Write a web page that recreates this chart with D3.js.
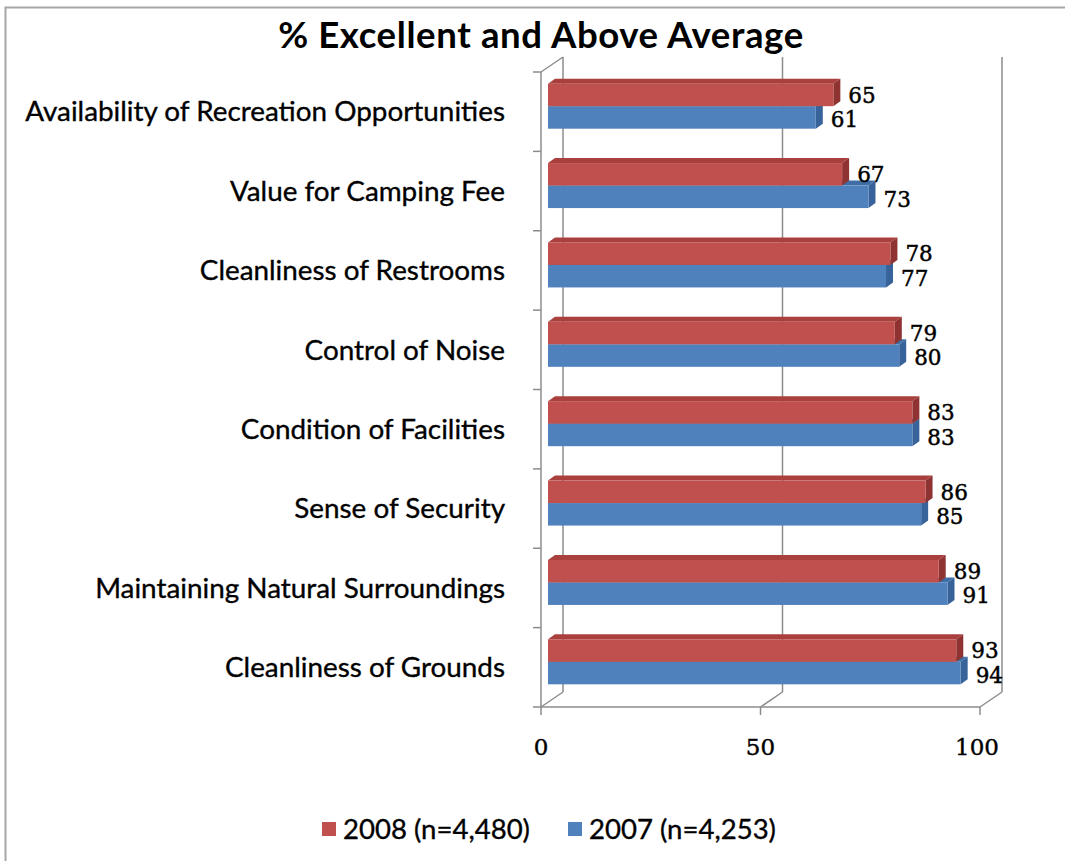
<!DOCTYPE html>
<html>
<head>
<meta charset="utf-8">
<script src="https://cdn.jsdelivr.net/npm/d3@7/dist/d3.min.js"></script>
<style>
  body { margin: 0; background: #fff; }
  text { fill: #000; }
</style>
</head>
<body>
<script>
const categories = [
  "Availability of Recreation Opportunities",
  "Value for Camping Fee",
  "Cleanliness of Restrooms",
  "Control of Noise",
  "Condition of Facilities",
  "Sense of Security",
  "Maintaining Natural Surroundings",
  "Cleanliness of Grounds"
];
const values2008 = [65, 67, 78, 79, 83, 86, 89, 93];
const values2007 = [61, 73, 77, 80, 83, 85, 91, 94];
const xTicks = [0, 50, 100];
const seriesNames = ["2008 (n=4,480)", "2007 (n=4,253)"];
const title = "% Excellent and Above Average";

const width = 1065, height = 861,
      wallDx = 22, wallDy = -15,     // depth of the 3d box
      barShiftX = 7, barShiftY = -5.5, // bars sit inside the depth
      barDx = 7, barDy = -5,         // depth of each bar
      gridColor = "#8c8c8c",
      colors = {
        red: {front: "#c0504d", top: "#a9403d", side: "#8e3331"},
        blue: {front: "#4f81bd", top: "#3f6ea6", side: "#38639a"}
      };

const svg = d3.select("body").append("svg")
  .attr("width", width)
  .attr("height", height);

svg.append("rect")
  .attr("x", 5.5).attr("y", 7.5)
  .attr("width", 1080).attr("height", 880)
  .attr("fill", "#fff")
  .attr("stroke", "#a6a6a6")
  .attr("stroke-width", 2);

const xScale = d3.scaleLinear().domain([0, 100]).range([541, 980]);
const yScale = d3.scaleBand().domain(categories).range([72, 707]);
const y0 = yScale.range()[0], y1 = yScale.range()[1];

// walls and grid
const grid = svg.append("g")
  .attr("stroke", gridColor)
  .attr("stroke-width", 1.5)
  .attr("fill", "none");

xTicks.forEach((t) => {
  const x = xScale(t);
  grid.append("line")
    .attr("x1", x + wallDx).attr("x2", x + wallDx)
    .attr("y1", y0 + wallDy).attr("y2", y1 + wallDy);
  grid.append("line")
    .attr("x1", x).attr("x2", x + wallDx)
    .attr("y1", y1).attr("y2", y1 + wallDy);
});

grid.append("line")
  .attr("x1", xScale(0)).attr("x2", xScale(0) + wallDx)
  .attr("y1", y0).attr("y2", y0 + wallDy);
grid.append("line")
  .attr("x1", xScale(0)).attr("x2", xScale(0))
  .attr("y1", y0).attr("y2", y1);
grid.append("line")
  .attr("x1", xScale(0)).attr("x2", xScale(100))
  .attr("y1", y1).attr("y2", y1);

// category ticks on the left
const bounds = categories.map((c) => yScale(c)).concat([y1]);
grid.selectAll(".ytick")
  .data(bounds).enter()
  .append("line")
  .attr("x1", xScale(0) - 8).attr("x2", xScale(0))
  .attr("y1", (d) => d).attr("y2", (d) => d);

grid.selectAll(".xtick")
  .data(xTicks).enter()
  .append("line")
  .attr("x1", (d) => xScale(d)).attr("x2", (d) => xScale(d))
  .attr("y1", y1).attr("y2", y1 + 8);

// bars
const barH = 22.5;
const rows = categories.map((c, i) => ({
  cat: c,
  center: yScale(c) + yScale.bandwidth() / 2 + barShiftY,
  v2008: values2008[i],
  v2007: values2007[i]
}));

function drawBar(g, x0, x1, y, h, col) {
  g.append("polygon")
    .attr("points", [[x0, y], [x0 + barDx, y + barDy], [x1 + barDx, y + barDy], [x1, y]].join(" "))
    .attr("fill", col.top);
  g.append("polygon")
    .attr("points", [[x1, y], [x1 + barDx, y + barDy], [x1 + barDx, y + h + barDy], [x1, y + h]].join(" "))
    .attr("fill", col.side);
  g.append("rect")
    .attr("x", x0).attr("y", y)
    .attr("width", x1 - x0).attr("height", h)
    .attr("fill", col.front);
}

const bars = svg.append("g");
rows.forEach((r) => {
  const x0 = xScale(0) + barShiftX;
  // blue (2007) below, drawn first so red covers its top face
  drawBar(bars, x0, xScale(r.v2007) + barShiftX, r.center, barH, colors.blue);
  drawBar(bars, x0, xScale(r.v2008) + barShiftX, r.center - barH, barH, colors.red);
});

// value labels
const valueFont = "'DejaVu Serif', serif";
const labels = svg.append("g")
  .attr("font-family", valueFont)
  .attr("font-size", 21.5)
  .attr("stroke", "#000")
  .attr("stroke-width", 0.45);
rows.forEach((r) => {
  labels.append("text")
    .attr("x", xScale(r.v2008) + barShiftX + 15)
    .attr("y", r.center - barH / 2)
    .attr("dy", "0.36em")
    .text(r.v2008);
  labels.append("text")
    .attr("x", xScale(r.v2007) + barShiftX + 15)
    .attr("y", r.center + barH / 2 + 2)
    .attr("dy", "0.36em")
    .text(r.v2007);
});

// x tick labels
svg.append("g")
  .attr("font-family", valueFont)
  .attr("font-size", 23)
  .attr("stroke", "#000")
  .attr("stroke-width", 0.4)
  .attr("text-anchor", "middle")
  .selectAll("text")
  .data(xTicks).enter()
  .append("text")
  .attr("x", (d) => xScale(d) - (d === 100 ? 3 : 0))
  .attr("y", 747)
  .attr("dy", "0.36em")
  .text((d) => d);

const sans = "Lato, 'Open Sans', sans-serif";

// fits a text selection's font-size to a target width
function fitSize(text, target, start) {
  text.attr("font-size", start);
  const w = text.node().getComputedTextLength();
  return start * target / w;
}

// category labels
const catG = svg.append("g")
  .attr("font-family", sans)
  .attr("stroke", "#000")
  .attr("stroke-width", 0.35)
  .attr("text-anchor", "end");
const catText = catG.selectAll("text")
  .data(categories).enter()
  .append("text")
  .attr("x", 505)
  .attr("y", (d) => yScale(d) + yScale.bandwidth() / 2)
  .attr("dy", "0.35em")
  .text((d) => d);
const catSize = fitSize(catText.filter((d, i) => i === 0), 480, 20);
catText.attr("font-size", catSize);

// title
const titleText = svg.append("text")
  .attr("x", 541)
  .attr("y", 35)
  .attr("dy", "0.35em")
  .attr("text-anchor", "middle")
  .attr("font-family", sans)
  .attr("font-weight", "bold")
  .attr("letter-spacing", 0.6)
  .text(title);
titleText.attr("font-size", fitSize(titleText, 533, 26));

// legend
const legendColors = [colors.red.front, colors.blue.front];
const legendX = [322, 568];
const legend = svg.append("g")
  .attr("font-family", sans)
  .attr("stroke", "#000")
  .attr("stroke-width", 0.35);
seriesNames.forEach((name, i) => {
  legend.append("rect")
    .attr("x", legendX[i]).attr("y", 822)
    .attr("width", 14).attr("height", 14)
    .attr("stroke", "none")
    .attr("fill", legendColors[i]);
  const t = legend.append("text")
    .attr("x", legendX[i] + 21)
    .attr("y", 829)
    .attr("dy", "0.35em")
    .text(name);
  t.attr("font-size", fitSize(t, 187, 20));
});
</script>
</body>
</html>
